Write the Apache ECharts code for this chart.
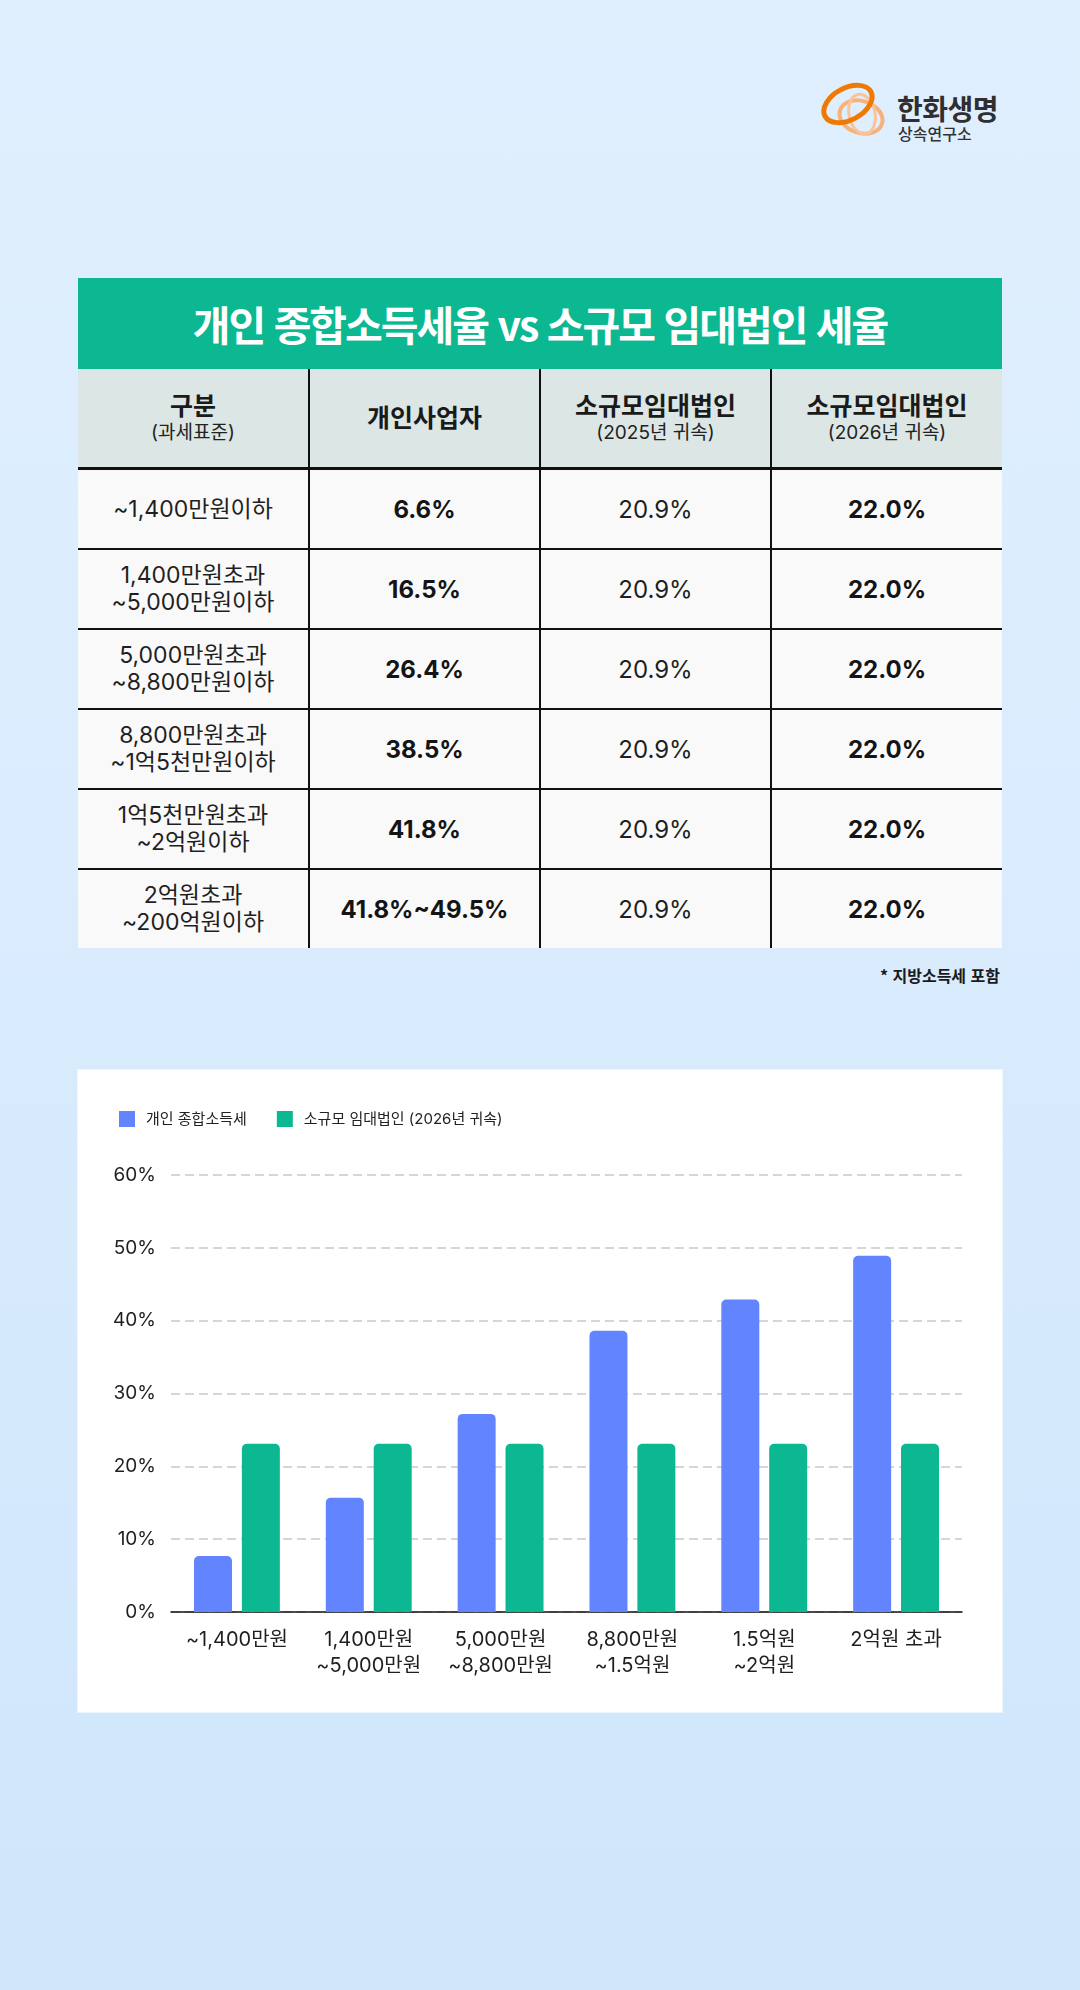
<!DOCTYPE html>
<html lang="ko">
<head>
<meta charset="utf-8">
<script src="https://cdn.jsdelivr.net/npm/echarts@6/dist/echarts.min.js"></script>
<style>
  html, body { margin: 0; padding: 0; }
  body {
    width: 1080px; height: 1990px; position: relative; overflow: hidden;
    background: linear-gradient(180deg, #e0effe 0%, #d8ebfd 55%, #cfe6fb 100%);
    font-family: Inter, "Noto Sans CJK KR", sans-serif; color: #1d1d1d;
  }
  #logo { position: absolute; left: 818px; top: 76px; width: 200px; height: 70px; }
  #logo svg { position: absolute; left: 0; top: 0; }
  #logo .name { position: absolute; left: 79px; top: 16px; font-family: "Noto Sans CJK KR", sans-serif; font-weight: 700; font-size: 28px; letter-spacing: -0.5px; color: #2f2f2f; line-height: 32px; }
  #logo .sub { position: absolute; left: 80px; top: 47px; font-family: "Noto Sans CJK KR", sans-serif; font-weight: 500; font-size: 16px; color: #333; line-height: 20px; }
  #tbl { position: absolute; left: 78px; top: 278px; width: 924px; }
  #tbl .title { height: 91px; background: #0bb891; color: #fff; text-align: center; line-height: 91px;
    font-family: "Noto Sans CJK KR", sans-serif; font-weight: 700; font-size: 41px; letter-spacing: -2px; }
  table { border-collapse: collapse; width: 924px; table-layout: fixed; }
  td, th { text-align: center; vertical-align: middle; padding: 0; }
  th { background: #dce6e4; height: 98px; border-bottom: 3px solid #111; font-weight: 700; font-size: 25px; line-height: 27px; color: #1a1a1a; }
  th .s { display: block; font-weight: 400; font-size: 19px; line-height: 23px; margin-top: 1px; color: #222; }
  td { background: #f9f9f9; height: 78px; border-top: 2px solid #111; font-size: 23px; line-height: 27px; color: #1f1f1f; }
  tr:first-child td { border-top: none; }
  th + th, td + td { border-left: 2px solid #111; }
  td.r { font-size: 24px; }
  td.b { font-weight: 700; font-size: 24px; color: #141414; }
  #note { position: absolute; right: 80px; top: 963px; font-family: "Noto Sans CJK KR", sans-serif; font-weight: 700; font-size: 16px; color: #1a1a1a; }
  #panel { position: absolute; left: 78px; top: 1070px; width: 924px; height: 642px; background: #fff; box-shadow: 0 0 0 1px #eef5fd; }
  #chart { position: absolute; left: 0; top: 0; width: 924px; height: 642px; }
</style>
</head>
<body>
<div id="logo">
  <svg width="80" height="70" viewBox="0 0 80 70">
    <ellipse cx="43" cy="41" rx="22" ry="16" transform="rotate(18 43 41)" fill="none" stroke="#f7b27a" stroke-width="4"/>
    <ellipse cx="44" cy="38" rx="13" ry="20" transform="rotate(-12 44 38)" fill="none" stroke="#f9c49b" stroke-width="3"/>
    <ellipse cx="30" cy="28" rx="26" ry="16" transform="rotate(-28 30 28)" fill="none" stroke="#ee7a04" stroke-width="5"/>
  </svg>
  <div class="name">한화생명</div>
  <div class="sub">상속연구소</div>
</div>

<div id="tbl">
  <div class="title" id="tblTitle"></div>
  <table id="rateTable"><thead><tr id="head"></tr></thead><tbody id="body"></tbody></table>
</div>
<div id="note"></div>

<div id="panel"><div id="chart"></div></div>

<script>
// ---------- table content ----------
const tableTitle = '개인 종합소득세율 vs 소규모 임대법인 세율';
const headerMain = ['구분', '개인사업자', '소규모임대법인', '소규모임대법인'];
const headerSub = ['(과세표준)', '', '(2025년 귀속)', '(2026년 귀속)'];
const brackets = ['~1,400만원이하', '1,400만원초과\n~5,000만원이하', '5,000만원초과\n~8,800만원이하', '8,800만원초과\n~1억5천만원이하', '1억5천만원초과\n~2억원이하', '2억원초과\n~200억원이하'];
const personalText = ['6.6%', '16.5%', '26.4%', '38.5%', '41.8%', '41.8%~49.5%'];
const corp2025Text = ['20.9%', '20.9%', '20.9%', '20.9%', '20.9%', '20.9%'];
const corp2026Text = ['22.0%', '22.0%', '22.0%', '22.0%', '22.0%', '22.0%'];
const footnote = '* 지방소득세 포함';

// ---------- chart data ----------
const categories = ['~1,400만원', '1,400만원\n~5,000만원', '5,000만원\n~8,800만원', '8,800만원\n~1.5억원', '1.5억원\n~2억원', '2억원 초과'];
const seriesNames = ['개인 종합소득세', '소규모 임대법인 (2026년 귀속)'];
const personalRates = [7.7, 15.7, 27.2, 38.6, 42.9, 48.9];
const corporateRates = [23.1, 23.1, 23.1, 23.1, 23.1, 23.1];
const yMin = 0, yMax = 60, yStep = 10;

// build table
document.getElementById('tblTitle').textContent = tableTitle;
const esc = s => s.replace(/&/g,'&amp;').replace(/</g,'&lt;');
document.getElementById('head').innerHTML = headerMain.map((h, i) =>
  '<th>' + esc(h) + (headerSub[i] ? '<span class="s">' + esc(headerSub[i]) + '</span>' : '') + '</th>').join('');
document.getElementById('body').innerHTML = brackets.map((b, i) =>
  '<tr><td>' + esc(b).replace('\n', '<br>') + '</td><td class="b">' + esc(personalText[i]) +
  '</td><td class="r">' + esc(corp2025Text[i]) + '</td><td class="b">' + esc(corp2026Text[i]) + '</td></tr>').join('');
document.getElementById('note').textContent = footnote;

// chart
const chart = echarts.init(document.getElementById('chart'));
const ff = 'Inter, "Noto Sans CJK KR", sans-serif';
chart.setOption({
  animation: false,
  textStyle: { fontFamily: ff },
  legend: {
    left: 36, top: 36, icon: 'rect', itemWidth: 16, itemHeight: 16, itemGap: 30,
    textStyle: { fontSize: 15, color: '#222', fontFamily: ff, padding: [0, 0, 0, 6] },
    data: seriesNames
  },
  grid: { left: 93, right: 40, top: 105, bottom: 100, containLabel: false },
  xAxis: {
    type: 'category', data: categories,
    axisLine: { lineStyle: { color: '#111', width: 1.5 } },
    axisTick: { show: false },
    axisLabel: { fontSize: 20, lineHeight: 26, color: '#1f1f1f', margin: 15, fontFamily: ff, interval: 0 }
  },
  yAxis: {
    type: 'value', min: yMin, max: yMax, interval: yStep,
    axisLine: { show: false }, axisTick: { show: false },
    axisLabel: { formatter: '{value}%', fontSize: 19, color: '#1f1f1f', margin: 15, fontFamily: ff },
    splitLine: { lineStyle: { color: '#d6d6d6', width: 2, type: [9, 5] } }
  },
  series: [
    { name: seriesNames[0], type: 'bar', data: personalRates, barWidth: 38, barGap: '26%',
      itemStyle: { color: '#6384ff', borderRadius: [5, 5, 0, 0] } },
    { name: seriesNames[1], type: 'bar', data: corporateRates, barWidth: 38,
      itemStyle: { color: '#0bb891', borderRadius: [5, 5, 0, 0] } }
  ]
});
</script>
</body>
</html>
